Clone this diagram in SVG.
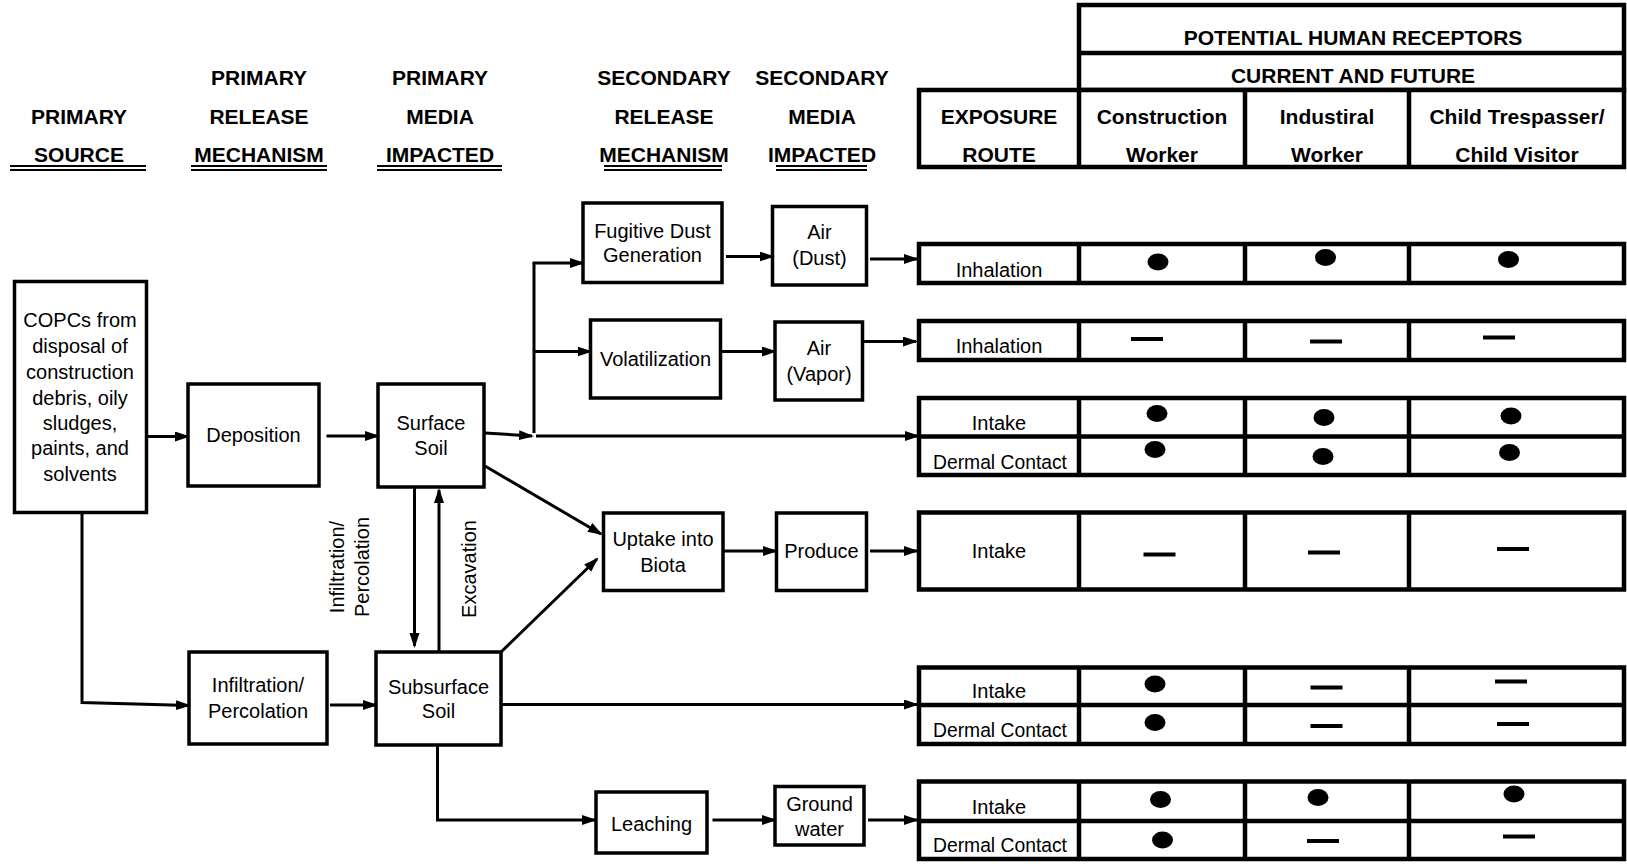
<svg xmlns="http://www.w3.org/2000/svg" width="1627" height="867" viewBox="0 0 1627 867">
<defs>
<marker id="ah" markerUnits="userSpaceOnUse" markerWidth="15" markerHeight="11" refX="13" refY="5" orient="auto">
<path d="M0,0 L15,5 L0,10 z" fill="#000"/>
</marker>
<style>
.box{fill:#fff;stroke:#000;stroke-width:3.5}
.tb{fill:#fff;stroke:#000;stroke-width:4.5}
.tl{stroke:#000;stroke-width:4.5}
.t{font-family:"Liberation Sans",Arial,sans-serif;font-size:20px;text-anchor:middle;fill:#000}
.dc{font-size:19.3px}
.h{font-family:"Liberation Sans",Arial,sans-serif;font-size:21px;font-weight:bold;text-anchor:middle;fill:#000}
.ul{stroke:#000;stroke-width:2}
.c{stroke:#000;stroke-width:3;fill:none}
.a{marker-end:url(#ah)}
.d{stroke:#000;stroke-width:4}
</style>
</defs>
<rect width="1627" height="867" fill="#fff"/>

<g id="headers-left">
<text class="h" x="79" y="124">PRIMARY</text>
<text class="h" x="79" y="161.5">SOURCE</text>
<text class="h" x="259" y="85">PRIMARY</text>
<text class="h" x="259" y="124">RELEASE</text>
<text class="h" x="259" y="161.5">MECHANISM</text>
<text class="h" x="440" y="85">PRIMARY</text>
<text class="h" x="440" y="124">MEDIA</text>
<text class="h" x="440" y="161.5">IMPACTED</text>
<text class="h" x="664" y="85">SECONDARY</text>
<text class="h" x="664" y="124">RELEASE</text>
<text class="h" x="664" y="161.5">MECHANISM</text>
<text class="h" x="822" y="85">SECONDARY</text>
<text class="h" x="822" y="124">MEDIA</text>
<text class="h" x="822" y="161.5">IMPACTED</text>
<path class="ul" d="M10,166H146M10,170H146M191,166H327M191,170H327M377,166H502M377,170H502M604,166H722M604,170H722M776,166H867M776,170H867"/>
</g>

<g id="header-table">
<rect class="tb" x="1079" y="5" width="545" height="85"/>
<line class="tl" x1="1079" y1="53" x2="1624" y2="53"/>
<rect class="tb" x="919" y="90" width="705" height="77"/>
<path class="tl" d="M1079,90V167M1245,90V167M1409,90V167"/>
<text class="h" x="1353" y="45">POTENTIAL HUMAN RECEPTORS</text>
<text class="h" x="1353" y="83">CURRENT AND FUTURE</text>
<text class="h" x="999" y="124">EXPOSURE</text>
<text class="h" x="999" y="161.5">ROUTE</text>
<text class="h" x="1162" y="124">Construction</text>
<text class="h" x="1162" y="161.5">Worker</text>
<text class="h" x="1327" y="124">Industiral</text>
<text class="h" x="1327" y="161.5">Worker</text>
<text class="h" x="1517" y="124">Child Trespasser/</text>
<text class="h" x="1517" y="161.5">Child Visitor</text>
</g>

<g id="copcs">
<rect class="box" x="14.5" y="281.5" width="132" height="231"/>
<text class="t" x="80" y="327">COPCs from</text>
<text class="t" x="80" y="353">disposal of</text>
<text class="t" x="80" y="379">construction</text>
<text class="t" x="80" y="405">debris, oily</text>
<text class="t" x="80" y="430">sludges,</text>
<text class="t" x="80" y="455">paints, and</text>
<text class="t" x="80" y="481">solvents</text>
</g>
<g id="deposition">
<rect class="box" x="188" y="384" width="131" height="102"/>
<text class="t" x="253.5" y="442">Deposition</text>
</g>
<g id="surface-soil">
<rect class="box" x="378" y="384" width="106" height="103"/>
<text class="t" x="431" y="430">Surface</text>
<text class="t" x="431" y="455">Soil</text>
</g>
<g id="infiltration">
<rect class="box" x="189" y="652" width="138" height="92"/>
<text class="t" x="258" y="692">Infiltration/</text>
<text class="t" x="258" y="718">Percolation</text>
</g>
<g id="subsurface-soil">
<rect class="box" x="376" y="652" width="125" height="93"/>
<text class="t" x="438.5" y="694">Subsurface</text>
<text class="t" x="438.5" y="718">Soil</text>
</g>
<g id="fugitive-dust">
<rect class="box" x="583" y="203" width="139" height="79.5"/>
<text class="t" x="652.5" y="238">Fugitive Dust</text>
<text class="t" x="652.5" y="262">Generation</text>
</g>
<g id="volatilization">
<rect class="box" x="590.5" y="320" width="130" height="78"/>
<text class="t" x="655.5" y="366">Volatilization</text>
</g>
<g id="uptake">
<rect class="box" x="603.5" y="513" width="119.5" height="77.5"/>
<text class="t" x="663" y="545.5">Uptake into</text>
<text class="t" x="663" y="572">Biota</text>
</g>
<g id="leaching">
<rect class="box" x="596" y="792" width="111" height="61"/>
<text class="t" x="651.5" y="830.5">Leaching</text>
</g>
<g id="air-dust">
<rect class="box" x="772.5" y="206.5" width="94" height="78.5"/>
<text class="t" x="819.5" y="239">Air</text>
<text class="t" x="819.5" y="265">(Dust)</text>
</g>
<g id="air-vapor">
<rect class="box" x="775" y="322" width="87.5" height="78"/>
<text class="t" x="819" y="355">Air</text>
<text class="t" x="819" y="380.5">(Vapor)</text>
</g>
<g id="produce">
<rect class="box" x="776.5" y="513" width="90" height="77.5"/>
<text class="t" x="821.5" y="558">Produce</text>
</g>
<g id="ground-water">
<rect class="box" x="775" y="786.5" width="89" height="58.5"/>
<text class="t" x="819.5" y="810.5">Ground</text>
<text class="t" x="819.5" y="835.5">water</text>
</g>

<g id="labels">
<text class="t" transform="translate(344,567) rotate(-90)">Infiltration/</text>
<text class="t" transform="translate(369,567) rotate(-90)">Percolation</text>
<text class="t" transform="translate(476,569) rotate(-90)">Excavation</text>
</g>

<g id="row-inhalation-dust">
<rect class="tb" x="919" y="244" width="705" height="39"/>
<path class="tl" d="M1079,244V283M1245,244V283M1409,244V283"/>
<text class="t" x="999" y="276.5">Inhalation</text>
<ellipse cx="1158" cy="262" rx="10.5" ry="8.5"/>
<ellipse cx="1325.5" cy="257.5" rx="10.5" ry="8.5"/>
<ellipse cx="1508.5" cy="259.5" rx="10.5" ry="8.5"/>
</g>
<g id="row-inhalation-vapor">
<rect class="tb" x="919" y="321" width="705" height="39"/>
<path class="tl" d="M1079,321V360M1245,321V360M1409,321V360"/>
<text class="t" x="999" y="353">Inhalation</text>
<path class="d" d="M1131,339h32M1310,341.5h32M1483,337.5h32"/>
</g>
<g id="row-surface-contact">
<rect class="tb" x="919" y="398" width="705" height="77"/>
<path class="tl" d="M919,436.5H1624M1079,398V475M1245,398V475M1409,398V475"/>
<text class="t" x="999" y="430">Intake</text>
<text class="t dc" x="1000" y="468.5">Dermal Contact</text>
<ellipse cx="1157" cy="413.5" rx="10.5" ry="8.5"/>
<ellipse cx="1324" cy="417.5" rx="10.5" ry="8.5"/>
<ellipse cx="1511" cy="416" rx="10.5" ry="8.5"/>
<ellipse cx="1155" cy="449.5" rx="10.5" ry="8.5"/>
<ellipse cx="1323" cy="456.5" rx="10.5" ry="8.5"/>
<ellipse cx="1509.5" cy="452.5" rx="10.5" ry="8.5"/>
</g>
<g id="row-produce-intake">
<rect class="tb" x="919" y="512.5" width="705" height="77"/>
<path class="tl" d="M1079,512.5V589.5M1245,512.5V589.5M1409,512.5V589.5"/>
<text class="t" x="999" y="558">Intake</text>
<path class="d" d="M1143.5,554.5h32M1308,552.5h32M1497,549h32"/>
</g>
<g id="row-subsurface-contact">
<rect class="tb" x="919" y="667.5" width="705" height="76.5"/>
<path class="tl" d="M919,705H1624M1079,667.5V744M1245,667.5V744M1409,667.5V744"/>
<text class="t" x="999" y="698">Intake</text>
<text class="t dc" x="1000" y="737">Dermal Contact</text>
<ellipse cx="1155" cy="684" rx="10.5" ry="8.5"/>
<ellipse cx="1155" cy="722.5" rx="10.5" ry="8.5"/>
<path class="d" d="M1310.5,687.5h32M1495,681.5h32M1310.5,726h32M1497,724h32"/>
</g>
<g id="row-groundwater">
<rect class="tb" x="919" y="781.5" width="705" height="77.5"/>
<path class="tl" d="M919,821H1624M1079,781.5V859M1245,781.5V859M1409,781.5V859"/>
<text class="t" x="999" y="814">Intake</text>
<text class="t dc" x="1000" y="852">Dermal Contact</text>
<ellipse cx="1160.5" cy="799.5" rx="10.5" ry="8.5"/>
<ellipse cx="1318" cy="797.5" rx="10.5" ry="8.5"/>
<ellipse cx="1514" cy="794" rx="10.5" ry="8.5"/>
<ellipse cx="1162.5" cy="840" rx="10.5" ry="8.5"/>
<path class="d" d="M1307,841h32M1503,836.5h32"/>
</g>

<g id="connectors">
<line class="c a" x1="146.5" y1="436.5" x2="188" y2="436.5"/>
<line class="c a" x1="326.5" y1="436" x2="378" y2="436"/>
<line class="c a" x1="485" y1="433" x2="532" y2="436"/>
<path class="c" d="M534,263V433"/>
<line class="c a" x1="532.5" y1="263" x2="583" y2="263"/>
<line class="c a" x1="534" y1="351.5" x2="590.5" y2="351.5"/>
<line class="c a" x1="536" y1="436" x2="918" y2="436"/>
<line class="c a" x1="726" y1="256.5" x2="772.5" y2="256.5"/>
<line class="c a" x1="870" y1="259" x2="917" y2="259"/>
<line class="c a" x1="721.5" y1="351.5" x2="775" y2="351.5"/>
<line class="c a" x1="864" y1="341.5" x2="916" y2="341.5"/>
<line class="c a" x1="485" y1="466" x2="601" y2="534"/>
<line class="c a" x1="500" y1="653" x2="597" y2="559"/>
<line class="c a" x1="723" y1="551" x2="776" y2="551"/>
<line class="c a" x1="870" y1="551" x2="917" y2="551"/>
<path class="c a" d="M82,512.5V702.5L189,705.5"/>
<line class="c a" x1="330" y1="705" x2="376" y2="705"/>
<line class="c a" x1="414.5" y1="487" x2="414.5" y2="646"/>
<line class="c a" x1="439" y1="652" x2="439" y2="490"/>
<line class="c a" x1="501" y1="704.5" x2="917" y2="704.5"/>
<path class="c a" d="M437.5,745V820H595"/>
<line class="c a" x1="712.5" y1="820" x2="775" y2="820"/>
<line class="c a" x1="868" y1="820" x2="917" y2="820"/>
</g>
</svg>
